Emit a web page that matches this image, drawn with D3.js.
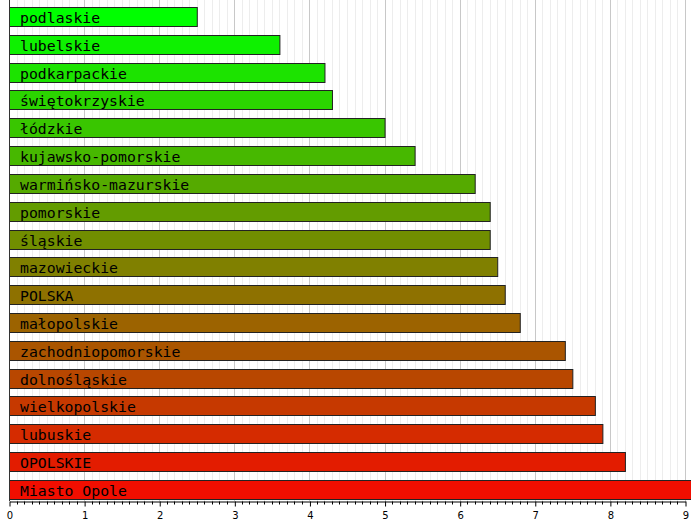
<!DOCTYPE html>
<html>
<head>
<meta charset="utf-8">
<script src="https://cdn.jsdelivr.net/npm/d3@7"></script>
<style>
  body { margin: 0; background: #fff; }
  .bar-label { font-family: "DejaVu Sans Mono", monospace; font-size: 14.8px; fill: #000; }
  .axis text { font-family: "DejaVu Sans", sans-serif; font-size: 10px; fill: #000; }
</style>
</head>
<body>
<div id="chart"></div>
<script>
const regions = ["podlaskie", "lubelskie", "podkarpackie", "świętokrzyskie", "łódzkie",
  "kujawsko-pomorskie", "warmińsko-mazurskie", "pomorskie", "śląskie", "mazowieckie",
  "POLSKA", "małopolskie", "zachodniopomorskie", "dolnośląskie", "wielkopolskie",
  "lubuskie", "OPOLSKIE", "Miasto Opole"]
const values = [2.5, 3.6, 4.2, 4.3, 5.0, 5.4, 6.2, 6.4, 6.4, 6.5,
  6.6, 6.8, 7.4, 7.5, 7.8, 7.9, 8.2, 9.1]
const xTicks = [0, 1, 2, 3, 4, 5, 6, 7, 8, 9]

const w = 691,
      h = 522,
      axisY = 501

const svg = d3.select("#chart").append("svg")
  .attr("width", w)
  .attr("height", h)

const xScale = d3.scaleLinear()
  .domain([0, 9])
  .range([9, 685])

const yScale = d3.scaleBand()
  .domain(regions)
  .range([2.8, 503.6])
  .paddingInner(0.3)
  .paddingOuter(0.15)

const colorScale = d3.scaleLinear()
  .domain([0, regions.length])
  .range(["#00ff00", "#ff0000"])

// grid, minor every 0.1
const minor = d3.range(1, 91).map(d => d / 10).filter(d => Math.abs(d - Math.round(d)) > 1e-6)
svg.append("g").selectAll("line")
  .data(minor)
  .join("line")
  .attr("x1", d => Math.round(xScale(d)) + 0.5)
  .attr("x2", d => Math.round(xScale(d)) + 0.5)
  .attr("y1", 0)
  .attr("y2", axisY)
  .attr("stroke", "#ededed")
  .attr("stroke-width", 1)

svg.append("g").selectAll("line")
  .data(xTicks.slice(1))
  .join("line")
  .attr("x1", d => Math.round(xScale(d)) + 0.5)
  .attr("x2", d => Math.round(xScale(d)) + 0.5)
  .attr("y1", 0)
  .attr("y2", axisY)
  .attr("stroke", "#c8c8c8")
  .attr("stroke-width", 1)

// bars
svg.append("g").selectAll("rect")
  .data(values)
  .join("rect")
  .attr("x", xScale(0) + 0.5)
  .attr("y", (d, i) => Math.round(yScale(regions[i])) + 0.5)
  .attr("width", d => xScale(d) - xScale(0))
  .attr("height", Math.round(yScale.bandwidth()))
  .attr("fill", (d, i) => colorScale(i))
  .attr("stroke", "#222")
  .attr("stroke-width", 1)

svg.append("g").selectAll("text")
  .data(regions)
  .join("text")
  .attr("class", "bar-label")
  .attr("x", xScale(0) + 11)
  .attr("y", d => Math.round(yScale(d)) + yScale.bandwidth() / 2 + 1)
  .attr("dominant-baseline", "central")
  .text(d => d)

// left axis line
svg.append("line")
  .attr("x1", xScale(0) + 0.5)
  .attr("x2", xScale(0) + 0.5)
  .attr("y1", 0)
  .attr("y2", axisY)
  .attr("stroke", "#333")

// bottom axis with minor ticks
svg.append("g")
  .attr("transform", `translate(0, ${axisY + 0.5})`)
  .selectAll("line")
  .data(minor)
  .join("line")
  .attr("x1", d => Math.round(xScale(d)) + 0.5)
  .attr("x2", d => Math.round(xScale(d)) + 0.5)
  .attr("y1", 0)
  .attr("y2", 3)
  .attr("stroke", "#000")

const xAxis = svg.append("g")
  .attr("class", "axis")
  .attr("transform", `translate(0.5, ${axisY + 0.5})`)
  .call(d3.axisBottom(xScale)
    .tickValues(xTicks)
    .tickSize(5)
    .tickSizeOuter(0)
    .tickPadding(5))
xAxis.select(".domain").attr("stroke", "#000")
xAxis.selectAll(".tick line").attr("stroke", "#000")
</script>
</body>
</html>
